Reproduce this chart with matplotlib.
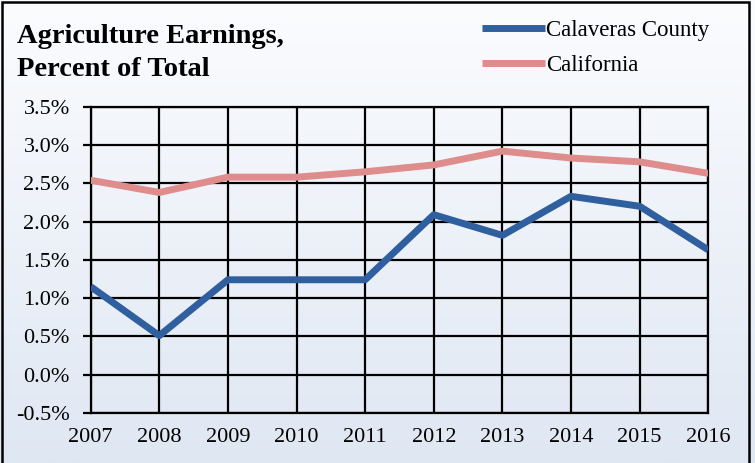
import numpy as np
import matplotlib
matplotlib.use("Agg")
import matplotlib.pyplot as plt
from matplotlib.ticker import FuncFormatter, MultipleLocator

years = [2007, 2008, 2009, 2010, 2011, 2012, 2013, 2014, 2015, 2016]
calaveras = [1.15, 0.51, 1.24, 1.24, 1.24, 2.09, 1.82, 2.33, 2.20, 1.63]
california = [2.54, 2.38, 2.58, 2.58, 2.65, 2.74, 2.92, 2.83, 2.78, 2.63]

plt.rcParams["font.family"] = ["Liberation Serif", "DejaVu Serif"]

fig = plt.figure(figsize=(7.55, 4.63), dpi=100)

# light blue gradient background behind everything
bg = fig.add_axes([0, 0, 1, 1], zorder=-10)
grad = np.linspace(0, 1, 256).reshape(-1, 1)
cmap = matplotlib.colors.LinearSegmentedColormap.from_list("bg", ["#fbfcfe", "#dfe7f3"])
bg.imshow(grad, aspect="auto", cmap=cmap, extent=[0, 1, 0, 1], origin="upper")
bg.axis("off")

ax = fig.add_axes([0.1201, 0.108, 0.818, 0.6615])
ax.set_facecolor("none")

ax.plot(years, calaveras, color="#2f5f9f", lw=5, label="Calaveras County",
        solid_capstyle="butt", zorder=3)
ax.plot(years, california, color="#df8c8c", lw=5, label="California",
        solid_capstyle="butt", zorder=3)

ax.set_xlim(2007, 2016)
ax.set_ylim(-0.5, 3.5)
ax.set_xticks(years)
ax.yaxis.set_major_locator(MultipleLocator(0.5))
ax.yaxis.set_major_formatter(FuncFormatter(lambda v, p: f"{v:.1f}%"))
ax.grid(True, color="black", lw=1.6, zorder=1)
for s in ax.spines.values():
    s.set_color("black")
    s.set_linewidth(1.6)
ax.tick_params(axis="y", length=6, width=1.6, pad=9, labelsize=16, direction="out")
ax.tick_params(axis="x", length=0, pad=11, labelsize=16)

fig.text(0.022, 0.908, "Agriculture Earnings,", fontsize=20.5, fontweight="bold", va="baseline")
fig.text(0.022, 0.835, "Percent of Total", fontsize=20.5, fontweight="bold", va="baseline")

fig.legend(loc="upper left", bbox_to_anchor=(0.626, 0.977), frameon=False,
           fontsize=16.5, handlelength=2.75, handletextpad=0.05, labelspacing=0.6,
           borderaxespad=0)

# outer frame
fig.patches.append(matplotlib.patches.Rectangle((0.002, -0.01), 0.9905, 1.005,
                                                transform=fig.transFigure, fill=False,
                                                edgecolor="black", lw=1.8))

fig.savefig("out.png", dpi=100)
